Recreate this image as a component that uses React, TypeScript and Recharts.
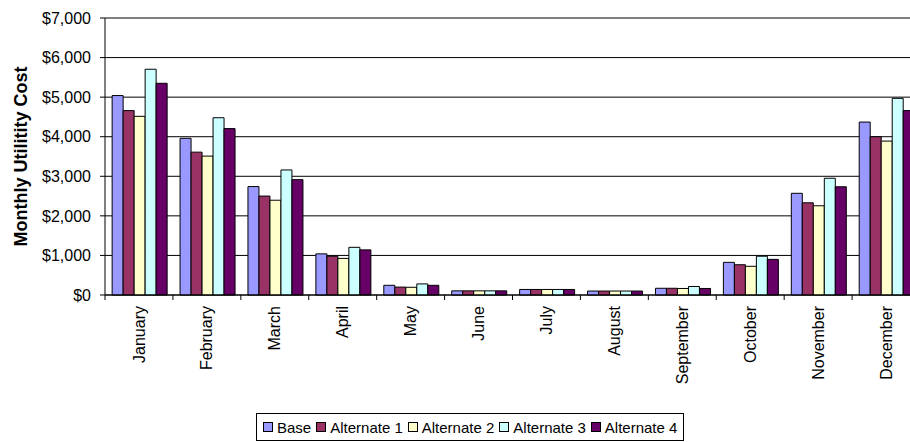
import React from "react";
import { BarChart, Bar, XAxis, YAxis, CartesianGrid, Legend } from "recharts";

const months = ["January", "February", "March", "April", "May", "June", "July", "August", "September", "October", "November", "December"];
const base = [5040, 3960, 2740, 1040, 245, 105, 140, 100, 170, 825, 2570, 4370];
const alternate1 = [4660, 3610, 2500, 980, 200, 105, 140, 100, 170, 765, 2330, 4000];
const alternate2 = [4515, 3510, 2395, 925, 195, 105, 140, 100, 165, 725, 2255, 3890];
const alternate3 = [5705, 4480, 3160, 1205, 280, 105, 140, 100, 215, 980, 2950, 4970];
const alternate4 = [5350, 4205, 2915, 1140, 245, 105, 140, 100, 165, 900, 2735, 4660];
const yTicks = [0, 1000, 2000, 3000, 4000, 5000, 6000, 7000];

const seriesNames = ["Base", "Alternate 1", "Alternate 2", "Alternate 3", "Alternate 4"];
const seriesColors = ["#9999FF", "#993366", "#FFFFCC", "#CCFFFF", "#660066"];

const data = months.map((m, i) => ({
  month: m,
  s0: base[i],
  s1: alternate1[i],
  s2: alternate2[i],
  s3: alternate3[i],
  s4: alternate4[i],
}));

const FONT = "'Liberation Sans', Arial, sans-serif";
const CHART_W = 912;
const CHART_H = 434;
const Y_W = 97;
const BAND = (CHART_W - Y_W) / months.length;

const MonthTick = (props: any) => {
  const { x, y, payload } = props;
  const bx = x - BAND / 2;
  return (
    <g>
      <line x1={bx} x2={bx} y1={y - 5} y2={y} stroke="#000" strokeWidth={1} />
      <text
        transform={`translate(${x},${y + 6}) rotate(-90)`}
        textAnchor="end"
        dy="0.35em"
        fontSize={16}
        fontFamily={FONT}
        fill="#000"
      >
        {payload.value}
      </text>
    </g>
  );
};

const YTitle = (props: any) => {
  const vb = props.viewBox || {};
  const cx = (vb.x || 0) + 13;
  const cy = (vb.y || 0) + (vb.height || 0) / 2;
  return (
    <text
      transform={`translate(${cx},${cy}) rotate(-90)`}
      textAnchor="middle"
      dy="0.35em"
      fontSize={18}
      fontWeight="bold"
      fontFamily={FONT}
      fill="#000"
    >
      Monthly Utilitity Cost
    </text>
  );
};

const LegendBox = () => (
  <div
    style={{
      display: "inline-flex",
      alignItems: "center",
      height: 28,
      boxSizing: "border-box",
      border: "1px solid #000",
      padding: "0 6px",
      background: "#fff",
      fontFamily: FONT,
      fontSize: 15,
      color: "#000",
      whiteSpace: "nowrap",
    }}
  >
    {seriesNames.map((n, i) => (
      <span key={n} style={{ display: "inline-flex", alignItems: "center", marginRight: i < seriesNames.length - 1 ? 5 : 0 }}>
        <span
          style={{
            display: "inline-block",
            width: 8,
            height: 8,
            border: "1px solid #000",
            background: seriesColors[i],
            marginRight: 4,
          }}
        />
        {n}
      </span>
    ))}
  </div>
);

export default function App() {
  return (
    <div style={{ width: 902, height: CHART_H, overflow: "hidden", position: "relative" }}>
      <style>{`html { overflow: hidden; } body { margin-right: 0; }`}</style>
      <BarChart
        width={CHART_W}
        height={CHART_H}
        data={data}
        margin={{ top: 10, right: 0, left: 0, bottom: 1 }}
        barCategoryGap="10.5%"
        barGap={0}
      >
        <CartesianGrid vertical={false} stroke="#000" strokeWidth={1} />
        <XAxis
          dataKey="month"
          interval={0}
          height={118}
          tickLine={false}
          tickSize={5}
          tickMargin={0}
          axisLine={{ stroke: "#000" }}
          tick={<MonthTick />}
        />
        <YAxis
          width={Y_W}
          domain={[0, 7000]}
          ticks={yTicks}
          interval={0}
          tickSize={5}
          tickMargin={9}
          axisLine={{ stroke: "#000" }}
          tickLine={{ stroke: "#000" }}
          tick={{ fill: "#000", fontSize: 16, fontFamily: FONT }}
          tickFormatter={(v: number) => "$" + v.toLocaleString("en-US")}
          label={{ content: <YTitle /> }}
        />
        <Legend
          verticalAlign="bottom"
          align="left"
          content={<LegendBox />}
          wrapperStyle={{ left: 248, width: "auto" }}
        />
        {seriesNames.map((n, i) => (
          <Bar
            key={n}
            dataKey={`s${i}`}
            name={n}
            fill={seriesColors[i]}
            stroke="#000"
            strokeWidth={1}
            isAnimationActive={false}
          />
        ))}
      </BarChart>
    </div>
  );
}
